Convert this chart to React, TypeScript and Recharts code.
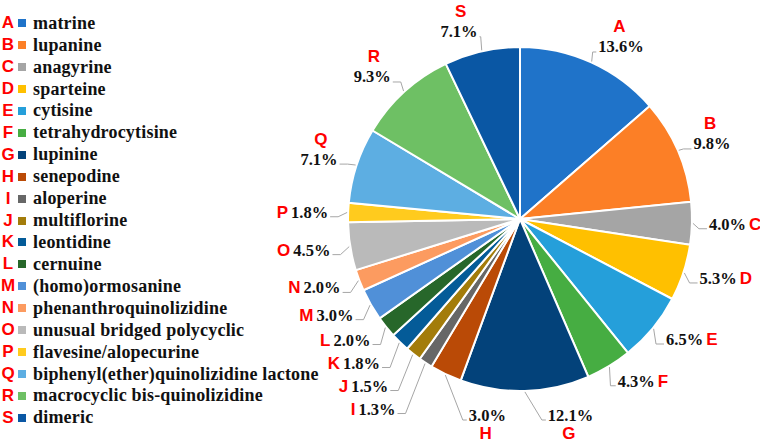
import { Cell, Pie, PieChart } from "recharts";

const letters = ["A", "B", "C", "D", "E", "F", "G", "H", "I", "J", "K", "L", "M", "N", "O", "P", "Q", "R", "S"];
const names = [
  "matrine",
  "lupanine",
  "anagyrine",
  "sparteine",
  "cytisine",
  "tetrahydrocytisine",
  "lupinine",
  "senepodine",
  "aloperine",
  "multiflorine",
  "leontidine",
  "cernuine",
  "(homo)ormosanine",
  "phenanthroquinolizidine",
  "unusual bridged polycyclic",
  "flavesine/alopecurine",
  "biphenyl(ether)quinolizidine lactone",
  "macrocyclic bis-quinolizidine",
  "dimeric",
];
const shares = [13.6, 9.8, 4.0, 5.3, 6.5, 4.3, 12.1, 3.0, 1.3, 1.5, 1.8, 2.0, 3.0, 2.0, 4.5, 1.8, 7.1, 9.3, 7.1];
const colors = [
  "#1F73C9", "#FC7F26", "#A5A5A5", "#FFC000", "#259FDA", "#46AD42", "#03427A",
  "#BA4A06", "#676767", "#A37C0A", "#045B98", "#27672A", "#5090D8", "#FC9B60",
  "#BABABA", "#FFCB1E", "#5DAEE2", "#6EC064", "#0A57A4",
];

const data = names.map((name, i) => ({ name, value: shares[i] }));

const NUM_FONT = "'Liberation Serif', serif";
const LETTER_FONT = "'Liberation Sans', Arial, sans-serif";
const LINE = "#A6A6A6";
const CHAR_W = 8.4;

type Spot = { dx: number; dy: number; theta: number; group: "right" | "left" | "bottom"; mark: "above" | "side" | "below" };

// spread labels outward along their ray so that neighbours don't collide
const layoutFor = (outer: number): Spot[] => {
  const total = shares.reduce((a, b) => a + b, 0);
  let acc = 0;
  const spots: Spot[] = shares.map((v) => {
    const theta = ((acc + v / 2) / total) * 360;
    acc += v;
    const group = theta < 170 ? "right" : theta <= 210 ? "bottom" : "left";
    let mark: Spot["mark"] = "side";
    if (group === "bottom") mark = "below";
    else if (theta < 80 || theta > 280) mark = "above";
    return { dx: 0, dy: 0, theta, group, mark };
  });
  const place = (order: number[], base: number) => {
    let prev: Spot | null = null;
    order.forEach((i) => {
      const s = spots[i];
      const rad = (s.theta * Math.PI) / 180;
      let r = outer + base;
      let dy = -r * Math.cos(rad);
      if (prev) {
        const gap = 23 + (s.mark === "above" ? 20 : 0);
        if (dy < prev.dy + gap) {
          dy = prev.dy + gap;
          if (-Math.cos(rad) > 0.2) r = dy / -Math.cos(rad);
        }
      }
      s.dx = r * Math.sin(rad);
      s.dy = dy;
      prev = s;
    });
  };
  const idx = spots.map((_, i) => i);
  place(idx.filter((i) => spots[i].group === "right").sort((a, b) => spots[a].theta - spots[b].theta), 17);
  place(idx.filter((i) => spots[i].group === "left").sort((a, b) => spots[b].theta - spots[a].theta), 20);
  idx
    .filter((i) => spots[i].group === "bottom")
    .forEach((i) => {
      const s = spots[i];
      const rad = (s.theta * Math.PI) / 180;
      s.dx = outer * Math.sin(rad) + 23;
      s.dy = outer + 24;
    });
  return spots;
};

const renderLabel = (props: any) => {
  const { cx, cy, outerRadius, index } = props;
  const s = layoutFor(outerRadius)[index];
  const rad = (s.theta * Math.PI) / 180;
  const ex = cx + (outerRadius + 1) * Math.sin(rad);
  const ey = cy - (outerRadius + 1) * Math.cos(rad);
  const tx = cx + s.dx;
  const ty = cy + s.dy;
  const txt = shares[index].toFixed(1) + "%";
  const w = txt.length * CHAR_W;
  const dir = s.group === "left" ? -1 : 1;
  const room = Math.abs(tx - ex);
  const h = s.group === "bottom" ? 4 : Math.min(8, Math.max(0, room - 3));
  const ly = ty + 5;
  const points = `${ex},${ey} ${tx - dir * (h + 2)},${ly} ${tx - dir * 2},${ly}`;
  const letterStyle = { fontFamily: LETTER_FONT, fontWeight: 700, fontSize: 17, fill: "#FF0000" };
  const numStyle = { fontFamily: NUM_FONT, fontWeight: 700, fontSize: 16.5, fill: "#111" };
  let letter = null;
  let num = null;
  if (s.mark === "side") {
    num =
      dir === 1 ? (
        <text x={tx} y={ty} textAnchor="start" dominantBaseline="central">
          <tspan style={numStyle}>{txt}</tspan>
          <tspan style={letterStyle} dx={3}>{letters[index]}</tspan>
        </text>
      ) : (
        <text x={tx} y={ty} textAnchor="end" dominantBaseline="central">
          <tspan style={letterStyle}>{letters[index]}</tspan>
          <tspan style={numStyle} dx={3}>{txt}</tspan>
        </text>
      );
  } else {
    num = (
      <text x={tx} y={ty} textAnchor={dir === 1 ? "start" : "end"} dominantBaseline="central" style={numStyle}>
        {txt}
      </text>
    );
    const lx = tx + (dir * w) / 2;
    const lyy = s.mark === "above" ? ty - 20 : ty + 18;
    letter = (
      <text x={lx} y={lyy} textAnchor="middle" dominantBaseline="central" style={letterStyle}>
        {letters[index]}
      </text>
    );
  }
  return (
    <g key={`lbl-${index}`}>
      <polyline points={points} fill="none" stroke={LINE} strokeWidth={1} />
      {num}
      {letter}
    </g>
  );
};

const KeyList = () => (
  <div style={{ position: "absolute", left: 0, top: 12.3, width: 330 }}>
    {names.map((n, i) => (
      <div key={n} style={{ display: "flex", alignItems: "center", height: 21.93, whiteSpace: "nowrap" }}>
        <span
          style={{
            display: "inline-block",
            width: 16,
            textAlign: "center",
            color: "#FF0000",
            fontFamily: LETTER_FONT,
            fontWeight: 700,
            fontSize: 17,
          }}>
          {letters[i]}
        </span>
        <span style={{ display: "inline-block", width: 8, height: 8, marginLeft: 2, background: colors[i] }} />
        <span
          style={{
            marginLeft: 7,
            fontFamily: NUM_FONT,
            fontWeight: 700,
            fontSize: 18,
            color: "#111",
            letterSpacing: 0.2,
          }}>
          {n}
        </span>
      </div>
    ))}
  </div>
);

export default function App() {
  return (
    <div style={{ position: "absolute", left: 0, top: 0, width: 760, height: 443, background: "#fff" }}>
      <KeyList />
      <div style={{ position: "absolute", left: 0, top: 0 }}>
        <PieChart width={760} height={443} margin={{ top: 0, right: 0, bottom: 0, left: 0 }}>
          <Pie
            data={data}
            dataKey="value"
            nameKey="name"
            cx={520}
            cy={219}
            outerRadius={172}
            startAngle={90}
            endAngle={-270}
            stroke="#fff"
            strokeWidth={2}
            labelLine={false}
            label={renderLabel}
            isAnimationActive={false}>
            {data.map((d, i) => (
              <Cell key={d.name} fill={colors[i]} />
            ))}
          </Pie>
        </PieChart>
      </div>
    </div>
  );
}
